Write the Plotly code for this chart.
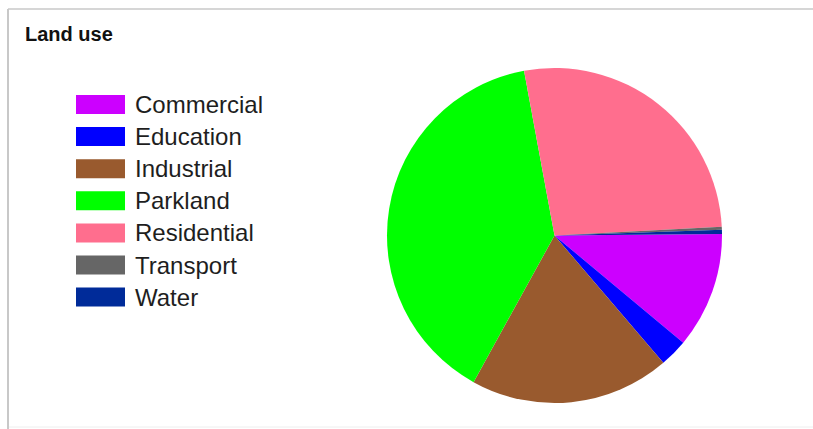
import plotly.graph_objects as go

# Data
labels = ["Commercial", "Education", "Industrial", "Parkland", "Residential", "Transport", "Water"]
values = [11.2, 2.7, 19.3, 39.1, 27.1, 0.3, 0.4]
colors = ["#CC00FF", "#0000FF", "#995A2E", "#00FF00", "#FF6E8E", "#666666", "#002B99"]
title_text = "Land use"

W, H = 813, 429

fig = go.Figure()
fig.add_trace(go.Pie(
    labels=labels,
    values=values,
    marker=dict(colors=colors, line=dict(width=0)),
    sort=False,
    direction="clockwise",
    rotation=89.5,
    textinfo="none",
    hoverinfo="label+percent",
    showlegend=False,
    domain=dict(x=[387 / W, 722 / W], y=[1 - 403 / H, 1 - 68 / H]),
))

shapes = []
annotations = []

# frame of the screenshot
shapes.append(dict(type="line", xref="paper", yref="paper",
                   x0=8 / W, x1=1, y0=1 - 9 / H, y1=1 - 9 / H,
                   line=dict(color="#d6d6d6", width=2)))
shapes.append(dict(type="line", xref="paper", yref="paper",
                   x0=8 / W, x1=8 / W, y0=0, y1=1 - 9 / H,
                   line=dict(color="#c8c8c8", width=2)))
shapes.append(dict(type="line", xref="paper", yref="paper",
                   x0=9 / W, x1=1, y0=1 - 427 / H, y1=1 - 427 / H,
                   line=dict(color="#eeeeee", width=1)))

# custom legend
top0, step, sw_h = 95, 32.1, 19
for i, (lab, col) in enumerate(zip(labels, colors)):
    top = top0 + i * step
    shapes.append(dict(type="rect", xref="paper", yref="paper",
                       x0=76 / W, x1=125 / W, y0=1 - (top + sw_h) / H, y1=1 - top / H,
                       fillcolor=col, line=dict(width=0)))
    annotations.append(dict(xref="paper", yref="paper", x=133 / W, y=1 - (top + sw_h / 2) / H,
                            text=lab, showarrow=False, xanchor="left", yanchor="middle",
                            font=dict(family="Liberation Sans, Arial", size=24, color="#1e1e1e")))

# title
annotations.append(dict(xref="paper", yref="paper", x=23 / W, y=1 - 34 / H,
                        text="<b>" + title_text + "</b>", showarrow=False,
                        xanchor="left", yanchor="middle",
                        font=dict(family="Liberation Sans, Arial", size=20, color="#111111")))

fig.update_layout(
    width=W, height=H,
    margin=dict(l=0, r=0, t=0, b=0),
    paper_bgcolor="white",
    plot_bgcolor="white",
    shapes=shapes,
    annotations=annotations,
)

fig.write_html("out.html")
